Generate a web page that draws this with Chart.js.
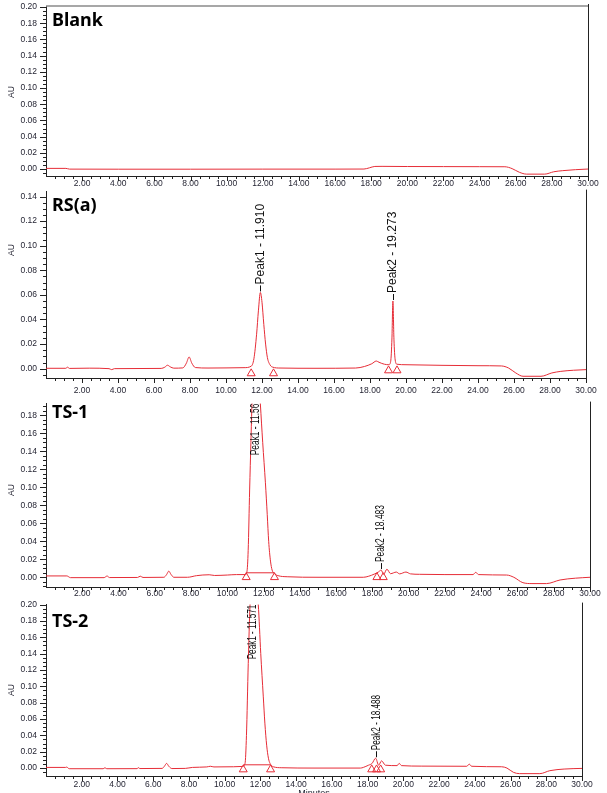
<!DOCTYPE html>
<html>
<head>
<meta charset="utf-8">
<script src="https://cdn.jsdelivr.net/npm/chart.js@4/dist/chart.umd.min.js"></script>
<style>
  body { margin: 0; background: #fff; overflow: hidden; }
  #wrap { position: relative; width: 607px; height: 793px; overflow: hidden; }
  canvas { position: absolute; left: 0; }
</style>
</head>
<body>
<div id="wrap"></div>
<script>
// ── 刻度 ──
const xMajor = [2, 4, 6, 8, 10, 12, 14, 16, 18, 20, 22, 24, 26, 28, 30];
const yMajorBlank = [0, 0.02, 0.04, 0.06, 0.08, 0.10, 0.12, 0.14, 0.16, 0.18, 0.20];
const yMajorRS = [0, 0.02, 0.04, 0.06, 0.08, 0.10, 0.12, 0.14];
const yMajorTS1 = [0, 0.02, 0.04, 0.06, 0.08, 0.10, 0.12, 0.14, 0.16, 0.18];
const yMajorTS2 = [0, 0.02, 0.04, 0.06, 0.08, 0.10, 0.12, 0.14, 0.16, 0.18, 0.20];

// ── 層析圖 [min, AU] ──
const traceBlank = [
  [0, 0.0008], [1.1, 0.0008], [1.3, -0.0001], [4, -0.0002], [8, -0.0002], [12, -0.0001],
  [16, -0.0001], [17.6, 0.0], [17.9, 0.0015], [18.2, 0.0032], [18.6, 0.0033], [20, 0.0031],
  [22, 0.003], [24, 0.0029], [25.4, 0.0028], [25.8, 0.0005], [26.2, -0.004], [26.6, -0.0063],
  [27.6, -0.0063], [28.1, -0.0034], [28.6, -0.002], [29.3, -0.0008], [30, 0.0]
];
const traceRS = [
  [0, 0.0003], [1.1, 0.0003], [1.2, 0.0012], [1.3, 0.0002], [2.4, 0.0004], [3.5, 0.0],
  [3.65, -0.0008], [3.8, 0.0], [5, 0.0001], [6.4, 0.0002], [6.6, 0.0012], [6.75, 0.0028],
  [6.9, 0.0015], [7.1, 0.0004], [7.6, 0.0006], [7.8, 0.0045], [7.95, 0.0095], [8.1, 0.0045],
  [8.3, 0.0009], [9, 0.0005], [10, 0.0006], [11, 0.0008], [11.4, 0.002], [11.55, 0.008],
  [11.7, 0.028], [11.8, 0.047], [11.91, 0.062], [12.0, 0.054], [12.1, 0.036], [12.2, 0.02],
  [12.3, 0.009], [12.45, 0.003], [12.6, 0.0012], [13, 0.0005], [15, 0.0003], [17.2, 0.0005],
  [17.7, 0.0018], [18.1, 0.004], [18.35, 0.0062], [18.5, 0.0052], [18.8, 0.0036], [19.05, 0.0032],
  [19.15, 0.006], [19.22, 0.025], [19.273, 0.055], [19.33, 0.024], [19.4, 0.007], [19.5, 0.0036],
  [20, 0.0032], [22, 0.0027], [24, 0.0024], [25.3, 0.0022], [25.7, 0.0005], [26.1, -0.0035],
  [26.5, -0.0062], [27.5, -0.0062], [28.1, -0.0035], [28.6, -0.0022], [29.3, -0.0013], [30, -0.0008]
];
const traceTS1 = [
  [0, 0.0015], [1.15, 0.0015], [1.35, -0.0004], [3.2, -0.0004], [3.37, 0.0014], [3.5, -0.0003],
  [5.05, -0.0002], [5.2, 0.0012], [5.35, -0.0002], [6.5, 0.0], [6.65, 0.003], [6.77, 0.0068],
  [6.9, 0.003], [7.05, 0.0], [7.8, 0.0], [8.3, 0.0018], [9.0, 0.0028], [9.3, 0.002], [10, 0.0025],
  [10.5, 0.003], [11.0, 0.003], [11.08, 0.006], [11.15, 0.03], [11.23, 0.097], [11.3, 0.15],
  [11.36, 0.193], [11.45, 0.225], [11.6, 0.24], [11.72, 0.225], [11.82, 0.193], [11.95, 0.15],
  [12.1, 0.105], [12.2, 0.07], [12.28, 0.04], [12.38, 0.018], [12.47, 0.008], [12.6, 0.004],
  [12.8, 0.0018], [13.3, 0.0006], [15, 0.0], [17.5, 0.0], [17.8, 0.0012], [18.1, 0.0035],
  [18.34, 0.006], [18.48, 0.008], [18.62, 0.0032], [18.8, 0.009], [19.0, 0.004], [19.32, 0.0058],
  [19.5, 0.0038], [19.85, 0.0058], [20.1, 0.0038], [20.6, 0.0033], [22, 0.003], [23.55, 0.003],
  [23.7, 0.0055], [23.85, 0.003], [25.4, 0.0025], [25.8, 0.0], [26.3, -0.006], [26.8, -0.007],
  [27.6, -0.007], [28.35, -0.003], [29.2, -0.001], [30, 0.0]
];
const traceTS2 = [
  [0, 0.0008], [1.1, 0.0008], [1.16, 0.0012], [1.3, -0.0008], [3.2, -0.0008], [3.3, 0.0004],
  [3.4, -0.0008], [5.1, -0.0007], [5.17, 0.0005], [5.25, -0.0006], [6.5, -0.0004], [6.62, 0.002],
  [6.75, 0.0057], [6.88, 0.002], [7.05, -0.0006], [7.8, -0.0004], [8.2, 0.0008], [9.0, 0.0014],
  [9.2, 0.0022], [9.4, 0.0014], [10.5, 0.0016], [11.0, 0.002], [11.14, 0.0057], [11.22, 0.04],
  [11.32, 0.128], [11.42, 0.2], [11.5, 0.225], [11.62, 0.235], [11.76, 0.222], [11.88, 0.2],
  [12.02, 0.14], [12.16, 0.088], [12.25, 0.055], [12.35, 0.028], [12.45, 0.012], [12.54, 0.0057],
  [12.72, 0.0016], [13.2, 0.0004], [15, 0.0], [17.6, 0.0], [17.76, 0.0008], [18.05, 0.0035],
  [18.25, 0.0057], [18.45, 0.012], [18.62, 0.0035], [18.78, 0.0088], [19.0, 0.0035], [19.65, 0.003],
  [19.77, 0.0057], [19.9, 0.003], [21, 0.0024], [23.55, 0.0022], [23.69, 0.0048], [23.82, 0.0022],
  [25.5, 0.0016], [25.8, 0.0], [26.16, -0.0052], [26.5, -0.0068], [27.64, -0.0068], [28.2, -0.0032],
  [29, -0.0012], [30, -0.0004]
];

// ── 峰標示 ──
const rsPeakNames = ['Peak1', 'Peak2'];
const rsPeakTimes = ['11.910', '19.273'];
const rsPeakHeights = [0.062, 0.055];
const ts1PeakNames = ['Peak1', 'Peak2'];
const ts1PeakTimes = ['11.56', '18.483'];
const ts1PeakHeights = [0.24, 0.008];
const ts2PeakNames = ['Peak1', 'Peak2'];
const ts2PeakTimes = ['11.571', '18.488'];
const ts2PeakHeights = [0.235, 0.012];

// 積分起迄三角形 [min, AU]
const rsMarks = [[11.4, -0.0039], [12.64, -0.0039], [19.03, -0.0015], [19.5, -0.0015]];
const ts1Marks = [[11.04, 0.0], [12.6, 0.0], [18.25, 0.0], [18.6, 0.0]];
const ts2Marks = [[11.04, -0.0018], [12.57, -0.0018], [18.23, -0.0018], [18.5, -0.0018], [18.73, -0.0018]];
// 積分基線
const ts1Baseline = [[11.04, 0.005], [12.6, 0.005]];
const ts2Baseline = [[11.04, 0.004], [12.57, 0.004]];

const RED = 'rgb(230,45,55)';
const SANS = "'Liberation Sans', Arial, sans-serif";
const TICK_COLOR = '#1f1f2e';

const panels = [
  { title: 'Blank', top: 0, h: 192, padTop: 6, right: 588, xAxisH: 16, xPad: 2.2,
    yMin: -0.0086, yMax: 0.2012, yMajor: yMajorBlank, titleY: 26, auY: 92,
    trace: traceBlank, frameTop: true },
  { title: 'RS(a)', top: 186, h: 210, padTop: 4, right: 586, xAxisH: 18, xPad: 7.2,
    yMin: -0.0076, yMax: 0.144, yMajor: yMajorRS, titleY: 211, auY: 250,
    trace: traceRS, names: rsPeakNames, times: rsPeakTimes, heights: rsPeakHeights,
    marks: rsMarks, labelScale: 1 },
  { title: 'TS-1', top: 398, h: 202, padTop: 5, right: 590, xAxisH: 13, xPad: 1.2,
    yMin: -0.0108, yMax: 0.193, yMajor: yMajorTS1, titleY: 418, auY: 490,
    trace: traceTS1, names: ts1PeakNames, times: ts1PeakTimes, heights: ts1PeakHeights,
    marks: ts1Marks, baseline: ts1Baseline, labelScale: 0.7 },
  { title: 'TS-2', top: 599, h: 210, padTop: 3, right: 582, xAxisH: 33, xPad: 3.2,
    yMin: -0.0097, yMax: 0.2, yMajor: yMajorTS2, titleY: 627, auY: 690,
    trace: traceTS2, names: ts2PeakNames, times: ts2PeakTimes, heights: ts2PeakHeights,
    marks: ts2Marks, baseline: ts2Baseline, labelScale: 0.68, xTitle: 'Minutes' }
];

const pts = arr => arr.map(p => ({ x: p[0], y: p[1] }));

function decor(cfg) {
  return {
    id: 'decor',
    afterDraw(chart) {
      const { ctx, chartArea: a, scales: { x, y } } = chart;
      ctx.save();
      // 刻度線
      ctx.strokeStyle = '#222';
      ctx.lineWidth = 1;
      ctx.beginPath();
      for (let i = 1; i <= 60; i++) {
        const px = Math.round(x.getPixelForValue(i * 0.5)) + 0.5;
        const len = i % 4 === 0 ? 5 : 3;
        ctx.moveTo(px, a.bottom);
        ctx.lineTo(px, a.bottom + len);
      }
      const k0 = Math.ceil(cfg.yMin / 0.005 - 1e-9), k1 = Math.floor(cfg.yMax / 0.005 + 1e-9);
      for (let k = k0; k <= k1; k++) {
        const py = Math.round(y.getPixelForValue(k * 0.005)) + 0.5;
        const len = k % 4 === 0 ? 6 : 3;
        ctx.moveTo(a.left - len, py);
        ctx.lineTo(a.left, py);
      }
      // 右框
      ctx.moveTo(Math.round(a.right) + 0.5, a.top - 2);
      ctx.lineTo(Math.round(a.right) + 0.5, a.bottom);
      ctx.stroke();
      if (cfg.frameTop) {
        ctx.strokeStyle = '#8a8a8a';
        ctx.lineWidth = 1.5;
        ctx.beginPath();
        ctx.moveTo(a.left, a.top);
        ctx.lineTo(a.right, a.top);
        ctx.stroke();
      }

      // 標題
      ctx.fillStyle = '#000';
      ctx.font = "bold 18px 'Noto Sans', sans-serif";
      ctx.textBaseline = 'alphabetic';
      ctx.textAlign = 'left';
      ctx.fillText(cfg.title, 52, cfg.titleY - cfg.top);

      // AU
      ctx.save();
      ctx.translate(12, cfg.auY - cfg.top);
      ctx.rotate(-Math.PI / 2);
      ctx.font = '8.5px ' + SANS;
      ctx.fillStyle = TICK_COLOR;
      ctx.textAlign = 'center';
      ctx.textBaseline = 'middle';
      ctx.fillText('AU', 0, 0);
      ctx.restore();

      if (cfg.xTitle) {
        ctx.font = '9px ' + SANS;
        ctx.fillStyle = TICK_COLOR;
        ctx.textAlign = 'center';
        ctx.textBaseline = 'top';
        ctx.fillText(cfg.xTitle, (a.left + a.right) / 2, 789 - cfg.top);
      }

      // 峰標籤
      if (cfg.names) {
        ctx.save();
        ctx.beginPath();
        ctx.rect(a.left, a.top, a.right - a.left, a.bottom - a.top);
        ctx.clip();
        ctx.font = '12px ' + SANS;
        ctx.fillStyle = '#111';
        ctx.strokeStyle = '#111';
        cfg.names.forEach((name, i) => {
          const text = name + ' - ' + cfg.times[i];
          const px = x.getPixelForValue(parseFloat(cfg.times[i]));
          const pa = y.getPixelForValue(cfg.heights[i]);
          const len = ctx.measureText(text).width * cfg.labelScale;
          let start = pa - 8;
          if (start - len < a.top) start = a.top + len;
          if (pa > a.top) {
            ctx.beginPath();
            ctx.moveTo(Math.round(px) + 0.5, pa - 1);
            ctx.lineTo(Math.round(px) + 0.5, pa - 7);
            ctx.stroke();
          }
          ctx.save();
          ctx.translate(px, start);
          ctx.rotate(-Math.PI / 2);
          ctx.scale(cfg.labelScale, 1);
          ctx.textAlign = 'left';
          ctx.textBaseline = 'middle';
          ctx.fillText(text, 0, 0);
          ctx.restore();
        });
        ctx.restore();
      }
      ctx.restore();
    }
  };
}

const wrap = document.getElementById('wrap');
panels.forEach(cfg => {
  const cv = document.createElement('canvas');
  cv.width = 607;
  cv.height = cfg.h;
  cv.style.top = cfg.top + 'px';
  wrap.appendChild(cv);

  const datasets = [
    { data: pts(cfg.trace), borderColor: RED, borderWidth: 1, pointRadius: 0,
      cubicInterpolationMode: 'monotone', order: 3 }
  ];
  if (cfg.baseline) {
    datasets.push({ data: pts(cfg.baseline), borderColor: RED, borderWidth: 1, pointRadius: 0, order: 2 });
  }
  if (cfg.marks) {
    datasets.push({ data: pts(cfg.marks), showLine: false, pointStyle: 'triangle', pointRadius: 4.6,
      borderColor: RED, borderWidth: 1, backgroundColor: 'rgba(255,255,255,0)', order: 1 });
  }

  new Chart(cv, {
    type: 'line',
    data: { datasets },
    options: {
      responsive: false,
      animation: false,
      events: [],
      layout: { padding: { top: cfg.padTop, right: 607 - cfg.right, bottom: 0, left: 0 } },
      plugins: { legend: { display: false }, tooltip: { enabled: false } },
      scales: {
        x: {
          type: 'linear', min: 0, max: 30,
          afterBuildTicks: s => { s.ticks = xMajor.map(v => ({ value: v })); },
          afterFit: s => { s.height = cfg.xAxisH; s.paddingLeft = 0; s.paddingRight = 0; },
          grid: { display: false, drawTicks: false },
          border: { color: '#222', width: 1 },
          ticks: { autoSkip: false, maxRotation: 0, padding: cfg.xPad, color: TICK_COLOR,
            font: { size: 8.5, family: SANS, lineHeight: 1.2 }, callback: v => v.toFixed(2) }
        },
        y: {
          type: 'linear', min: cfg.yMin, max: cfg.yMax,
          afterBuildTicks: s => { s.ticks = cfg.yMajor.map(v => ({ value: v })); },
          afterFit: s => { s.width = 46; s.paddingTop = 0; s.paddingBottom = 0; },
          grid: { display: false, drawTicks: false },
          border: { color: '#222', width: 1 },
          ticks: { autoSkip: false, padding: 9, color: TICK_COLOR,
            font: { size: 8.5, family: SANS, lineHeight: 1.2 }, callback: v => v.toFixed(2) }
        }
      }
    },
    plugins: [decor(cfg)]
  });
});
</script>
</body>
</html>
